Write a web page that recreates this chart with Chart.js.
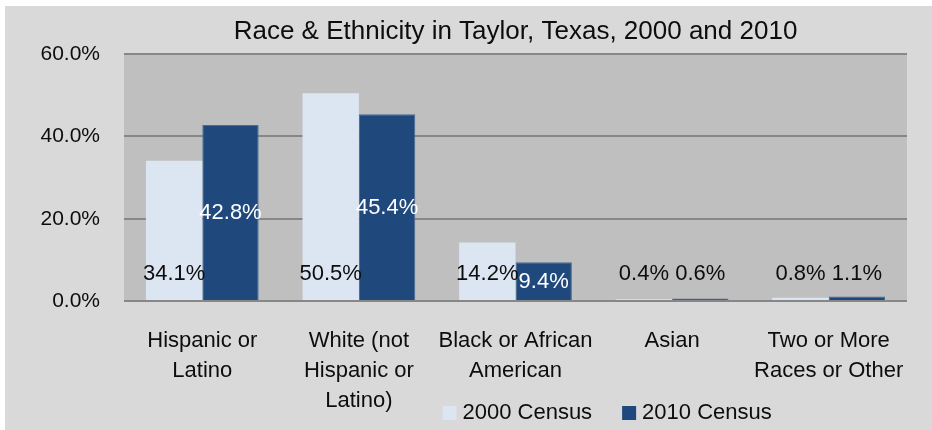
<!DOCTYPE html>
<html>
<head>
<meta charset="utf-8">
<script src="https://cdn.jsdelivr.net/npm/chart.js@4.4.0/dist/chart.umd.min.js"></script>
<style>
  html, body { margin: 0; padding: 0; background: #ffffff; overflow: hidden; }
  #wrap { position: absolute; left: 5px; top: 6px; width: 927px; height: 427px; }
</style>
</head>
<body>
<div id="wrap"><canvas id="chart" width="927" height="427"></canvas></div>
<script>
// chart data
const categories = [
  ['Hispanic or', 'Latino'],
  ['White (not', 'Hispanic or', 'Latino)'],
  ['Black or African', 'American'],
  ['Asian'],
  ['Two or More', 'Races or Other']
];
const census2000 = [34.1, 50.5, 14.2, 0.4, 0.8];
const census2010 = [42.8, 45.4, 9.4, 0.6, 1.1];
const seriesNames = ['2000 Census', '2010 Census'];
const yTicks = [0, 20, 40, 60];

const FONT = "'Liberation Sans Narrow', 'Arial Narrow', 'Liberation Sans', sans-serif";
const TEXT = '#0d0d0d';

// backgrounds: outer panel and plot area
const backgroundPlugin = {
  id: 'backgrounds',
  beforeDraw(chart) {
    const ctx = chart.ctx;
    const a = chart.chartArea;
    ctx.save();
    ctx.fillStyle = '#d9d9d9';
    ctx.fillRect(0, 0, chart.width, chart.height);
    ctx.fillStyle = '#bfbfbf';
    ctx.fillRect(a.left, a.top, a.right - a.left, a.bottom - a.top);
    ctx.restore();
  }
};

// value labels, like Excel's data labels
const valueLabels = {
  id: 'valueLabels',
  afterDatasetsDraw(chart) {
    const ctx = chart.ctx;
    const base = chart.scales.y.getPixelForValue(0);
    ctx.save();
    ctx.font = '22px ' + FONT;
    ctx.textAlign = 'center';
    ctx.textBaseline = 'middle';
    chart.data.datasets.forEach((ds, i) => {
      chart.getDatasetMeta(i).data.forEach((bar, j) => {
        const txt = ds.data[j].toFixed(1) + '%';
        const h = base - bar.y;
        if (i === 1 && h > 30) {
          ctx.fillStyle = '#ffffff';
          ctx.fillText(txt, bar.x, bar.y + h / 2);
        } else {
          ctx.fillStyle = TEXT;
          ctx.fillText(txt, bar.x, base - 27);
        }
      });
    });
    ctx.restore();
  }
};

// legend sits low, next to the last axis label line
const bottomLegend = {
  id: 'bottomLegend',
  afterDraw(chart) {
    const ctx = chart.ctx;
    ctx.save();
    ctx.font = '22px ' + FONT;
    ctx.textBaseline = 'middle';
    ctx.textAlign = 'left';
    const y = 407;
    const box = 14, gap = 6, spacing = 30;
    let total = 0;
    const widths = chart.data.datasets.map(ds => ctx.measureText(ds.label).width);
    widths.forEach(w => { total += box + gap + w; });
    total += spacing * (widths.length - 1);
    const a = chart.chartArea;
    let x = a.left + (a.right - a.left) * 0.617 - total / 2;
    chart.data.datasets.forEach((ds, i) => {
      ctx.fillStyle = ds.backgroundColor;
      ctx.fillRect(x, y - box / 2, box, box);
      ctx.fillStyle = TEXT;
      ctx.fillText(ds.label, x + box + gap, y);
      x += box + gap + widths[i] + spacing;
    });
    ctx.restore();
  }
};

new Chart(document.getElementById('chart'), {
  type: 'bar',
  data: {
    labels: categories,
    datasets: [
      {
        label: seriesNames[0],
        data: census2000,
        backgroundColor: '#dce6f2',
        borderWidth: 0,
        categoryPercentage: 0.72,
        barPercentage: 1.0
      },
      {
        label: seriesNames[1],
        data: census2010,
        backgroundColor: '#1f497d',
        borderColor: '#4a6b94',
        borderWidth: 1,
        categoryPercentage: 0.72,
        barPercentage: 1.0
      }
    ]
  },
  options: {
    responsive: false,
    animation: false,
    layout: { padding: { left: 0, right: 25, top: 0, bottom: 0 } },
    plugins: {
      legend: { display: false },
      tooltip: { enabled: false },
      title: {
        display: true,
        fullSize: false,
        text: 'Race & Ethnicity in Taylor, Texas, 2000 and 2010',
        color: TEXT,
        font: { family: FONT, size: 26, weight: 'normal' },
        padding: { top: 10, bottom: 7 }
      }
    },
    scales: {
      x: {
        grid: { display: false },
        border: { display: false },
        ticks: {
          color: TEXT,
          font: { family: FONT, size: 22, lineHeight: 30 / 22 },
          padding: 17,
          maxRotation: 0,
          autoSkip: false
        }
      },
      y: {
        min: yTicks[0],
        max: yTicks[yTicks.length - 1],
        afterFit(scale) { scale.width = 119; },
        afterBuildTicks(scale) { scale.ticks = yTicks.map(v => ({ value: v })); },
        grid: { color: '#878787', lineWidth: 2, drawTicks: false },
        border: { display: false },
        ticks: {
          color: TEXT,
          font: { family: FONT, size: 21 },
          padding: 24,
          callback: v => v.toFixed(1) + '%'
        }
      }
    }
  },
  plugins: [backgroundPlugin, valueLabels, bottomLegend]
});
</script>
</body>
</html>
